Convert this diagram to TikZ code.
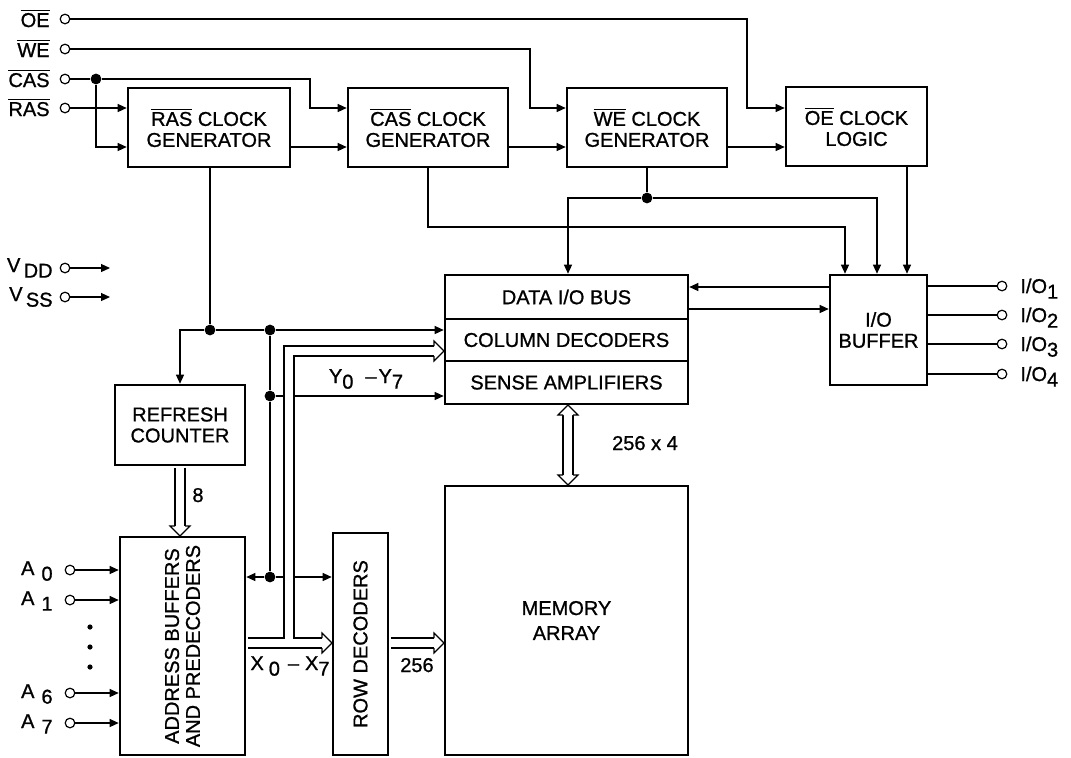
\documentclass[tikz,border=0pt]{standalone}
\usepackage{fontspec}
\setmainfont{Liberation Sans}[FakeBold=1]
\usetikzlibrary{arrows.meta}
\newcommand\lowr[1]{\raisebox{-2.8pt}{#1}}
\newcommand\ovl[1]{$\overline{\hbox{#1}}$}
\newcommand\lblfont{\fontsize{10}{10.5}\selectfont}
\newcommand\blk[6]{\node[box, minimum width={(#4-#2)*0.5pt}, minimum height={(#5-#3)*0.5pt}] (#1) at ({(#2+#4)/2},{(#3+#5)/2}) {#6};}
\newcommand\headR[2]{%
  \fill[white] ({#1-10},{#2-10}) -- (#1,#2) -- ({#1-10},{#2+10}) -- cycle;
  \draw[busline] ({#1-10},{#2-5}) -- ({#1-10},{#2-10}) -- (#1,#2) -- ({#1-10},{#2+10}) -- ({#1-10},{#2+5});}
\newcommand\headD[2]{%
  \fill[white] ({#1-10},{#2-10}) -- (#1,#2) -- ({#1+10},{#2-10}) -- cycle;
  \draw[busline] ({#1-5},{#2-10}) -- ({#1-10},{#2-10}) -- (#1,#2) -- ({#1+10},{#2-10}) -- ({#1+5},{#2-10});}
\newcommand\headU[2]{%
  \fill[white] ({#1-10},{#2+10}) -- (#1,#2) -- ({#1+10},{#2+10}) -- cycle;
  \draw[busline] ({#1-5},{#2+10}) -- ({#1-10},{#2+10}) -- (#1,#2) -- ({#1+10},{#2+10}) -- ({#1+5},{#2+10});}
\begin{document}
\begin{tikzpicture}[x=0.5pt,y=-0.5pt,
 every node/.style={font=\lblfont, inner sep=0pt},
 box/.style={draw, line width=1.3pt, inner sep=0pt, align=center},
 sig/.style={line width=0.6pt},
 arr/.style={sig,-{Triangle[length=4.5pt,width=4pt]}},
 jdot/.style={circle, fill, inner sep=0pt, minimum size=5.4pt},
 pin/.style={circle, draw, line width=0.6pt, inner sep=0pt, minimum size=4.8pt},
 edot/.style={circle, fill, inner sep=0pt, minimum size=2.6pt},
 busout/.style={line width=5.6pt, line join=miter},
 busin/.style={line width=4.4pt, white, line join=miter},
 busline/.style={line width=0.6pt, line join=miter},
]
\useasboundingbox (0,0) rectangle (1071,757);

% ---- blocks
\blk{rasbox}{128}{88}{290}{167}{\ovl{RAS} CLOCK\\GENERATOR}
\blk{casbox}{348}{88}{508}{167}{\ovl{CAS} CLOCK\\GENERATOR}
\blk{webox}{567}{88}{727}{167}{\ovl{WE} CLOCK\\GENERATOR}
\blk{oebox}{786}{87}{927}{166}{\ovl{OE} CLOCK\\LOGIC}
\blk{dbus}{445}{275}{688}{319}{DATA I/O BUS}
\blk{coldec}{445}{319}{688}{361}{COLUMN DECODERS}
\blk{sense}{445}{361}{688}{404}{SENSE AMPLIFIERS}
\blk{iobuf}{830}{275}{927}{385}{I/O\\BUFFER}
\blk{refresh}{115}{385}{245}{465}{REFRESH\\COUNTER}
\blk{addr}{120}{537}{245}{755}{}
\node[rotate=90, align=center] (addrtxt) at (addr.center) {ADDRESS BUFFERS\\AND PREDECODERS};
\blk{rowdec}{333}{533}{388}{755}{}
\node[rotate=90] (rowtxt) at (rowdec.center) {ROW DECODERS};
\blk{mem}{445}{486}{688}{755}{MEMORY\\[2pt]ARRAY}

% ---- control inputs
\foreach \n/\t/\y in {oe/OE/19, we/WE/49, cas/CAS/79, ras/RAS/108} {
  \node[pin] (\n) at (65,\y) {};
  \node[anchor=base east] (\n lbl) at (50,\y+8) {\ovl{\t}};
}
\node[jdot] (casdot) at (96,79) {};
\draw[sig] (cas) -- (casdot);
\draw[arr] (casdot) -- (310,79) |- (casbox.west |- 0,108);
\draw[arr] (casdot) |- (rasbox.west |- 0,147);
\draw[arr] (ras) -- (rasbox.west |- ras);
\draw[arr] (oe) -- (747,19) |- (oebox.west |- 0,108);
\draw[arr] (we) -- (530,49) |- (webox.west |- 0,108);
\draw[arr] (rasbox.east |- 0,147) -- (casbox.west |- 0,147);
\draw[arr] (casbox.east |- 0,147) -- (webox.west |- 0,147);
\draw[arr] (webox.east |- 0,147) -- (oebox.west |- 0,147);

% ---- power
\node[pin] (vdd) at (65,268) {};
\node[anchor=base east] (vddlbl) at (53,272) {V\,\lowr{DD}};
\coordinate (vddend) at (110,268);
\draw[arr] (vdd) -- (vddend);
\node[pin] (vss) at (65,297) {};
\node[anchor=base east] (vsslbl) at (53,301) {V\,\lowr{SS}};
\coordinate (vssend) at (110,297);
\draw[arr] (vss) -- (vssend);

% ---- address inputs
\foreach \n/\s/\y in {a0/0/570, a1/1/600, a6/6/693, a7/7/723} {
  \node[pin] (\n) at (70,\y) {};
  \node[anchor=base east] (\n lbl) at (53,\y+5) {A\hspace{3.5pt}\lowr{\s}};
  \draw[arr] (\n) -- (addr.west |- \n);
}
\node[edot] (ed1) at (90,627) {};
\node[edot] (ed2) at (90,647) {};
\node[edot] (ed3) at (90,667) {};

% ---- I/O pins
\foreach \n/\s/\y in {io1/1/286, io2/2/315, io3/3/344, io4/4/374} {
  \node[pin] (\n) at (1002,\y) {};
  \node[anchor=base west] (\n lbl) at (1020,\y+7) {I/O\lowr{\s}};
  \draw[sig] (iobuf.east |- \n) -- (\n);
}

% ---- internal signal lines
\node[jdot] (d1) at (210,330) {};
\node[jdot] (d2) at (270,330) {};
\node[jdot] (d3) at (270,396) {};
\node[jdot] (d4) at (270,577) {};
\draw[sig] (rasbox.south -| d1) -- (d1);
\draw[arr] (d1) -| (refresh.north);
\draw[sig] (d1) -- (d2);
\draw[arr] (d2) -- (coldec.west |- d2);
\draw[sig] (d2) -- (d3) -- (d4);
\draw[arr] (d3) -- (sense.west |- d3);
\draw[arr] (d4) -- (addr.east |- d4);
\draw[arr] (d4) -- (rowdec.west |- d4);

\coordinate (casbend) at (casbox.south |- 0,227);
\draw[arr] (casbox.south) -- (casbend) -| (iobuf.north -| 845,0);
\node[jdot] (d5) at (647,198) {};
\draw[sig] (webox.south -| d5) -- (d5);
\draw[arr] (d5) -| (dbus.north -| 568,0);
\draw[arr] (d5) -| (iobuf.north -| 877,0);
\draw[arr] (oebox.south -| 907,0) -- (iobuf.north -| 907,0);
\draw[arr] (iobuf.west |- 0,287) -- (dbus.east |- 0,287);
\draw[arr] (dbus.east |- 0,309) -- (iobuf.west |- 0,309);

% ---- buses
\coordinate (xs0) at (addr.east |- 0,643);
\coordinate (xs) at ([xshift=0.7pt]xs0);
\coordinate (xj) at (289,643);
\coordinate (yc) at (289,351);
\coordinate (rs0) at (rowdec.east |- 0,643);
\coordinate (rs) at ([xshift=0.7pt]rs0);
\coordinate (fs0) at (refresh.south);
\coordinate (fs) at ([yshift=-0.7pt]fs0);
\foreach \s in {busout, busin} {
  \draw[\s] (xs) -- (323,643);
  \draw[\s] (xj) -- (yc) -- (435,351);
  \draw[\s] (rs) -- (435,643);
  \draw[\s] (fs) -- (fs0 |- 0,527);
  \draw[\s] (568,415) -- (568,475);
}
\headR{332}{643}
\headR{444}{351}
\headR{444}{643}
\headD{180}{536}
\headU{568}{405}
\headD{568}{485}

% ---- bus labels
\node[anchor=base] (xlbl) at (290,670) {X\hspace{2.5pt}\lowr{0}\hspace{4pt}\textendash\hspace{3pt}X\lowr{7}};
\node[anchor=base] (ylbl) at (366,383) {Y\lowr{0}\hspace{6pt}\textendash\hspace{1pt}Y\lowr{7}};
\node[anchor=base] (l256) at (417,672) {256};
\node[anchor=base] (l2564) at (645,450) {256 x 4};
\node[anchor=base] (l8) at (198,502) {8};
\end{tikzpicture}
\end{document}
